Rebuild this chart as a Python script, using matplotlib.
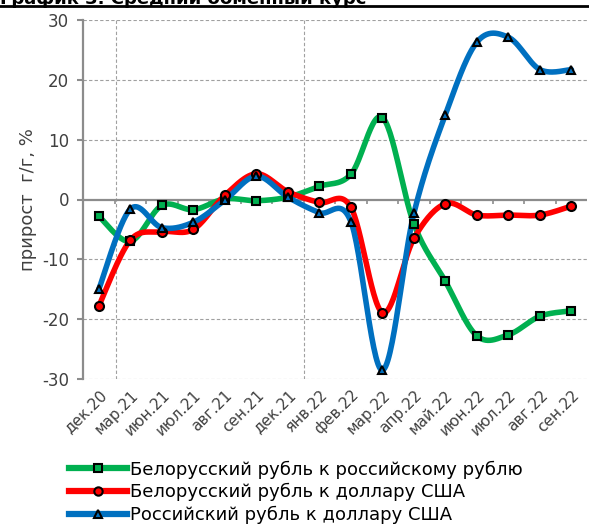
import numpy as np
import matplotlib.pyplot as plt
from matplotlib.lines import Line2D

plt.rcParams['axes.unicode_minus'] = False

# подписи месяцев
months = ['дек.20', 'мар.21', 'июн.21', 'июл.21', 'авг.21', 'сен.21', 'дек.21',
          'янв.22', 'фев.22', 'мар.22', 'апр.22', 'май.22', 'июн.22', 'июл.22',
          'авг.22', 'сен.22']

# прирост г/г, %
byn_rub = [-2.8, -7.0, -1.0, -1.7, 0.1, -0.2, 0.4, 2.2, 4.2, 13.7, -4.1, -13.7,
           -22.8, -22.6, -19.5, -18.6]
byn_usd = [-17.8, -6.8, -5.4, -5.0, 0.7, 4.3, 1.3, -0.5, -1.3, -18.9, -6.5, -0.7,
           -2.6, -2.6, -2.6, -1.1]
rub_usd = [-15.0, -1.6, -4.7, -3.8, -0.1, 3.9, 0.4, -2.2, -3.7, -28.5, -2.3, 14.2,
           26.3, 27.1, 21.7, 21.7]

names = ['Белорусский рубль к российскому рублю',
         'Белорусский рубль к доллару США',
         'Российский рубль к доллару США']
colors = ['#00B050', '#FF0000', '#0070C0']
markers = ['s', 'o', '^']


def smooth(y, n=30):
    # сглаживание как в Excel (Catmull-Rom через кривые Безье)
    y = np.asarray(y, float)
    x = np.arange(len(y), dtype=float)
    p = np.column_stack([x, y])
    p = np.vstack([p[0], p, p[-1]])
    t = np.linspace(0, 1, n)[:, None]
    out = []
    for i in range(1, len(p) - 2):
        p0, p1, p2, p3 = p[i - 1], p[i], p[i + 1], p[i + 2]
        c1 = p1 + (p2 - p0) / 6
        c2 = p2 - (p3 - p1) / 6
        seg = ((1 - t) ** 3) * p1 + 3 * ((1 - t) ** 2) * t * c1 + 3 * (1 - t) * t ** 2 * c2 + t ** 3 * p2
        out.append(seg)
    out = np.vstack(out)
    return out[:, 0], out[:, 1]


fig = plt.figure(figsize=(5.89, 5.25), dpi=100)
ax = fig.add_axes([0.141, 0.278, 0.856, 0.684])

x = np.arange(len(months))
gray = '#8c8c8c'

for k in [-30, -20, -10, 10, 20, 30]:
    ax.axhline(k, color='#a0a0a0', lw=0.8, ls=(0, (3, 2)), zorder=1)
for b in [0.55, 6.5]:
    ax.axvline(b, color='#a0a0a0', lw=0.8, ls=(0, (3, 2)), zorder=1)
ax.axhline(0, color=gray, lw=1.6, zorder=2)
ax.vlines(np.arange(0.5, len(months) - 0.5, 1), -0.7, 0, color=gray, lw=1.2, zorder=2)

for ys, c, m in zip([byn_rub, byn_usd, rub_usd], colors, markers):
    sx, sy = smooth(ys)
    ax.plot(sx, sy, color=c, lw=4, solid_capstyle='round', zorder=3)
    ax.plot(x, ys, ls='none', marker=m, ms=6 if m != 'o' else 6.5, mfc=c, mec='black',
            mew=1.5, zorder=4)

ax.set_xlim(-0.5, len(months) - 0.5)
ax.set_ylim(-30, 30)
ax.set_yticks(range(-30, 31, 10))
ax.set_xticks(x)
ax.set_xticklabels(months, rotation=45, ha='right', rotation_mode='anchor',
                   fontsize=11, color='#404040')
ax.tick_params(axis='x', length=0, pad=6)
ax.tick_params(axis='y', length=4, width=1.5, color=gray, labelsize=12,
               labelcolor='#404040', pad=6)
for s in ['top', 'right', 'bottom']:
    ax.spines[s].set_visible(False)
ax.spines['left'].set_color(gray)
ax.spines['left'].set_linewidth(1.6)
ax.set_ylabel('прирост  г/г, %', fontsize=13, color='#404040', labelpad=4)

handles = [Line2D([0], [0], color=c, lw=4.5, marker=m, ms=6, mfc=c, mec='black', mew=1.5)
           for c, m in zip(colors, markers)]
fig.legend(handles, names, loc='lower left', bbox_to_anchor=(0.105, -0.012),
           frameon=False, fontsize=13, handlelength=3.2, handletextpad=0.2,
           labelspacing=0.25, borderaxespad=0)

fig.text(0.0, 1.003, 'График 3. Средний обменный курс', fontsize=13,
         fontweight='bold', va='center', ha='left')
fig.add_artist(Line2D([0, 1], [0.989, 0.989], color='black', lw=2,
                      transform=fig.transFigure))

fig.savefig('out.png', dpi=100)
